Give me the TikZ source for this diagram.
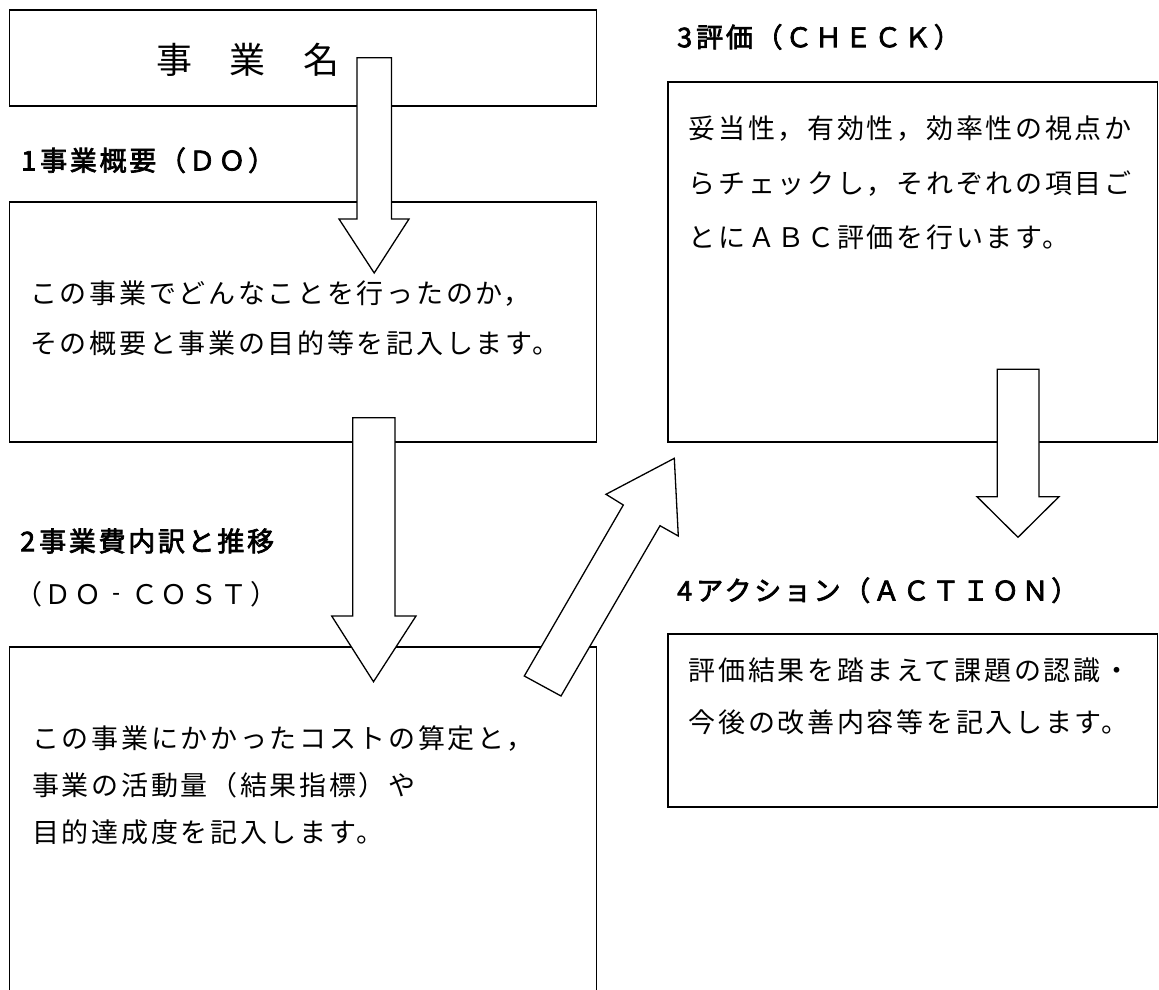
\documentclass[tikz,border=0pt]{standalone}
\usepackage{fontspec}
\setmainfont[LetterSpace=10]{Noto Sans CJK JP}
\newfontfamily\headfont[LetterSpace=10,FakeBold=2.6]{Noto Sans CJK JP}
\newfontfamily\titlefont[LetterSpace=2]{Noto Sans CJK JP}
\newcommand{\shortdash}{\makebox[1.1em]{\scalebox{0.3}[1]{－}}}
\begin{document}
\begin{tikzpicture}[x=1pt,y=-1pt,
  box/.style={draw=black, line width=1.8pt},
  blockarrow/.style={draw=black, fill=white, line width=1.3pt, line join=miter},
  body/.style={anchor=base west, inner sep=0pt, font=\fontsize{27}{32}\selectfont},
  head/.style={anchor=base west, inner sep=0pt, font=\headfont\fontsize{27}{32}\selectfont},
  titletext/.style={anchor=base west, inner sep=0pt, font=\titlefont\fontsize{36}{42}\selectfont}]
\useasboundingbox[fill=white] (0,0) rectangle (1159,990);

% boxes
\draw[box] (9.5,10) rectangle (596.5,106);
\draw[box] (9.5,201.7) rectangle (596.5,441.7);
\draw[box] (9.5,995) -- (9.5,647.3) -- (596.5,647.3) -- (596.5,995);
\draw[box] (667.7,81.7) rectangle (1157.5,441.7);
\draw[box] (667.7,634) rectangle (1157.5,806.7);

% block arrows
\draw[blockarrow] (357,57.7) -- (391.5,57.7) -- (391.5,219) -- (409,219) -- (374.2,273) -- (339,219) -- (357,219) -- cycle;
\draw[blockarrow] (352.7,417.7) -- (395,417.7) -- (395,616) -- (416,616) -- (373.5,681.7) -- (331.7,616) -- (352.7,616) -- cycle;
\draw[blockarrow] (997.3,369.3) -- (1039,369.3) -- (1039,496.7) -- (1059,496.7) -- (1018,537.3) -- (977,496.7) -- (997.3,496.7) -- cycle;
\draw[blockarrow] (524.3,676) -- (623.3,505) -- (606,494.3) -- (674.3,458.3) -- (678.3,536) -- (660,525.7) -- (561,696) -- cycle;

% texts
\node[titletext] (name) at (156,74) {事　業　名};
\node[head] (l1) at (21,170.5) {1\kern4pt 事業概要（ＤＯ）};
\node[body] (t1a) at (30,303.8) {この事業でどんなことを行ったのか，};
\node[body] (t1b) at (30,353.8) {その概要と事業の目的等を記入します。};
\node[head] (l2a) at (20,551.2) {2\kern4pt 事業費内訳と推移};
\node[body] (l2b) at (15,604.5) {（ＤＯ\shortdash ＣＯＳＴ）};
\node[body] (t2a) at (32,748.8) {この事業にかかったコストの算定と，};
\node[body] (t2b) at (32,795.5) {事業の活動量（結果指標）や};
\node[body] (t2c) at (32,842.2) {目的達成度を記入します。};
\node[head] (l3) at (677,47.2) {3\kern4pt 評価（ＣＨＥＣＫ）};
\node[body] (t3a) at (688.5,138.8) {妥当性，有効性，効率性の視点か};
\node[body] (t3b) at (688.5,193.8) {らチェックし，それぞれの項目ご};
\node[body] (t3c) at (688.5,247.2) {とにＡＢＣ評価を行います。};
\node[head] (l4) at (677,600.5) {4\kern4pt アクション（ＡＣＴＩＯＮ）};
\node[body] (t4a) at (688.5,680.5) {評価結果を踏まえて課題の認識・};
\node[body] (t4b) at (688.5,732.2) {今後の改善内容等を記入します。};
\end{tikzpicture}
\end{document}
